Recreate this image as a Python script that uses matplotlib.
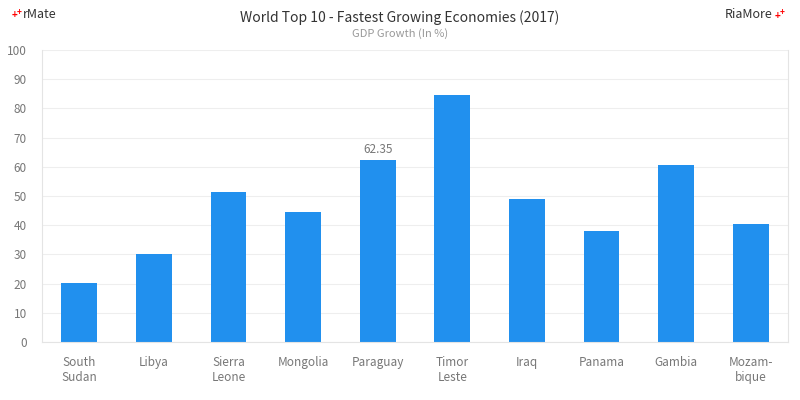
import matplotlib.pyplot as plt
import numpy as np

plt.rcParams['font.family'] = ['Noto Sans CJK KR', 'DejaVu Sans']

countries = ["South\nSudan", "Libya", "Sierra\nLeone", "Mongolia", "Paraguay",
             "Timor\nLeste", "Iraq", "Panama", "Gambia", "Mozam-\nbique"]
growth = [20.2, 30.1, 51.4, 44.5, 62.35, 84.6, 49.0, 38.0, 60.6, 40.4]
label_idx = 4

fig = plt.figure(figsize=(8, 4), dpi=100)
ax = fig.add_axes([42 / 800, 58 / 400, 746 / 800, 292 / 400])

x = np.arange(len(countries))
bars = ax.bar(x, growth, width=0.48, color='#2190ee', zorder=2)

ax.set_xlim(-0.5, len(countries) - 0.5)
ax.set_ylim(0, 100)
ax.set_yticks(range(0, 101, 10))
ax.set_xticks(x)
ax.set_xticklabels(countries, fontsize=8.5, color='#777777', linespacing=1.2)
ax.tick_params(axis='y', labelsize=8.5, labelcolor='#777777', length=0, pad=11)
ax.tick_params(axis='x', length=0, pad=10)
ax.grid(axis='y', color='#eeeeee', linewidth=0.8, zorder=0)
ax.spines['top'].set_visible(False)
for s in ['left', 'right', 'bottom']:
    ax.spines[s].set_color('#e4e4e4')
    ax.spines[s].set_linewidth(0.8)

ax.text(x[label_idx], growth[label_idx] + 1.5, f"{growth[label_idx]:.2f}",
        ha='center', va='bottom', fontsize=8.5, color='#777777')

fig.text(0.5, 1 - 18 / 400, "World Top 10 - Fastest Growing Economies (2017)",
         ha='center', va='center', fontsize=10, color='#333333')
fig.text(0.5, 1 - 34 / 400, "GDP Growth (In %)",
         ha='center', va='center', fontsize=8, color='#999999')

fig.text(12 / 800, 1 - 15 / 400, "+", color='red', fontsize=7, ha='left', va='center', fontweight='bold')
fig.text(17 / 800, 1 - 12 / 400, "+", color='red', fontsize=6, ha='left', va='center', fontweight='bold')
fig.text(23 / 800, 1 - 14 / 400, "rMate", color='#333333', fontsize=9, ha='left', va='center')
fig.text(773 / 800, 1 - 14 / 400, "RiaMore", color='#333333', fontsize=9, ha='right', va='center')
fig.text(775 / 800, 1 - 16 / 400, "+", color='red', fontsize=7, ha='left', va='center', fontweight='bold')
fig.text(780 / 800, 1 - 13 / 400, "+", color='red', fontsize=6, ha='left', va='center', fontweight='bold')

fig.savefig("out.png", dpi=100)
